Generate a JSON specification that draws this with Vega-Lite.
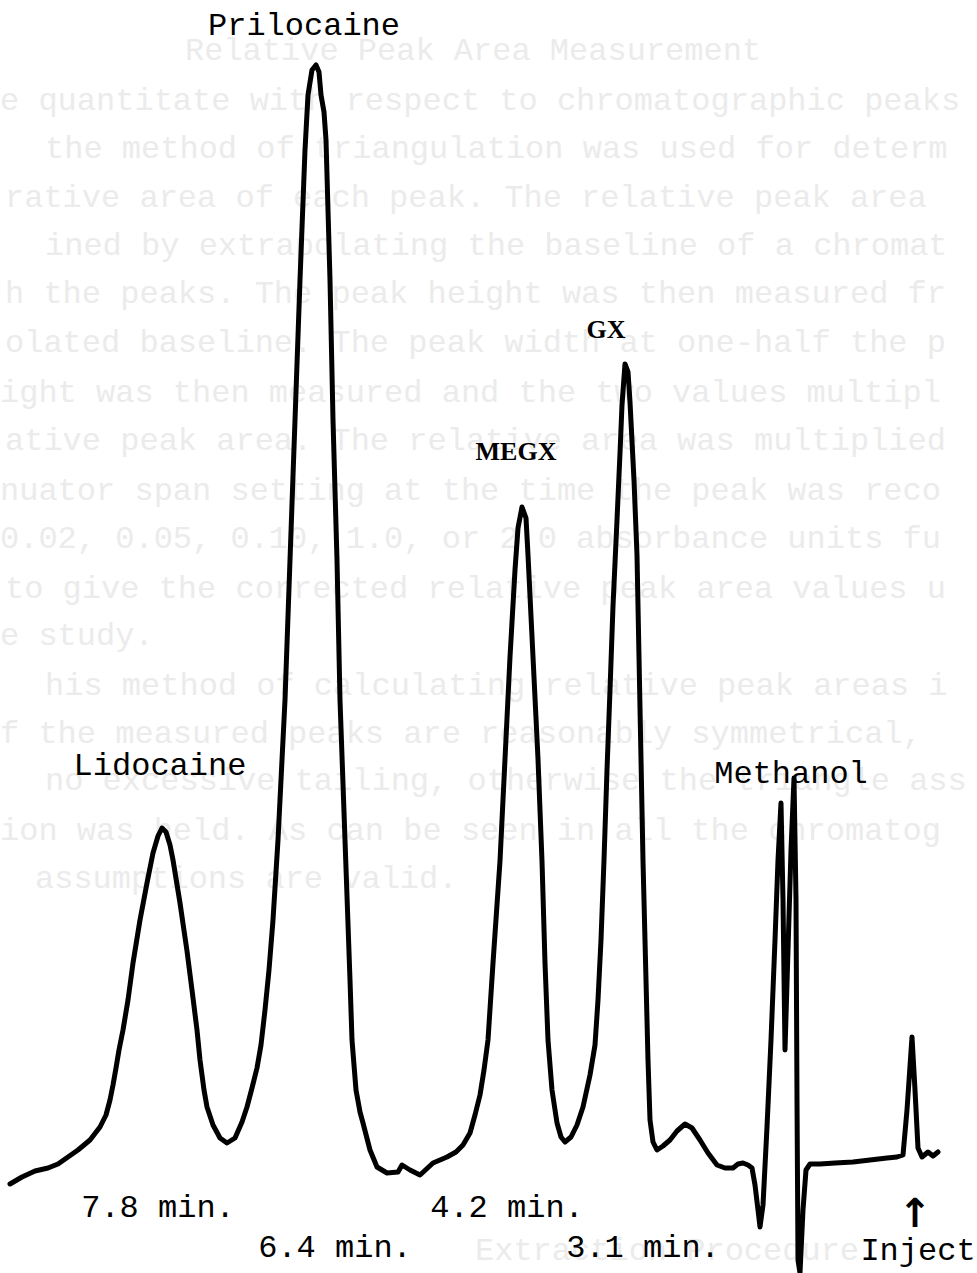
{
  "$schema": "https://vega.github.io/schema/vega-lite/v6.json",
  "width": 977,
  "height": 1273,
  "autosize": {"type": "none"},
  "padding": 0,
  "background": "white",
  "config": {"view": {"stroke": null}},
  "datasets": {
    "trace": [
      {"pos":10,"signal":89},{"pos":22,"signal":96},{"pos":35,"signal":102},{"pos":48,"signal":105},{"pos":58,"signal":109},{"pos":68,"signal":116},{"pos":78,"signal":123},{"pos":90,"signal":133},{"pos":100,"signal":146},{"pos":106,"signal":158},{"pos":110,"signal":173},{"pos":113,"signal":188},{"pos":116,"signal":205},{"pos":119,"signal":223},{"pos":123,"signal":243},{"pos":128,"signal":273},{"pos":133,"signal":310},{"pos":140,"signal":353},{"pos":147,"signal":390},{"pos":153,"signal":420},{"pos":158,"signal":437},{"pos":162,"signal":445},{"pos":166,"signal":441},{"pos":170,"signal":428},{"pos":173,"signal":413},{"pos":180,"signal":370},{"pos":187,"signal":322},{"pos":192,"signal":283},{"pos":197,"signal":243},{"pos":200,"signal":213},{"pos":204,"signal":183},{"pos":207,"signal":166},{"pos":213,"signal":148},{"pos":220,"signal":135},{"pos":227,"signal":130},{"pos":235,"signal":135},{"pos":242,"signal":151},{"pos":247,"signal":166},{"pos":252,"signal":185},{"pos":257,"signal":205},{"pos":261,"signal":228},{"pos":265,"signal":263},{"pos":269,"signal":303},{"pos":273,"signal":353},{"pos":278,"signal":433},{"pos":285,"signal":573},{"pos":290,"signal":713},{"pos":295,"signal":853},{"pos":300,"signal":993},{"pos":305,"signal":1123},{"pos":308,"signal":1178},{"pos":312,"signal":1203},{"pos":316,"signal":1208},{"pos":319,"signal":1201},{"pos":321,"signal":1178},{"pos":324,"signal":1161},{"pos":326,"signal":1133},{"pos":330,"signal":993},{"pos":333,"signal":853},{"pos":337,"signal":713},{"pos":340,"signal":573},{"pos":345,"signal":433},{"pos":350,"signal":293},{"pos":352,"signal":233},{"pos":356,"signal":183},{"pos":360,"signal":161},{"pos":363,"signal":150},{"pos":370,"signal":123},{"pos":377,"signal":106},{"pos":387,"signal":100},{"pos":398,"signal":101},{"pos":402,"signal":108},{"pos":410,"signal":103},{"pos":420,"signal":98},{"pos":433,"signal":110},{"pos":447,"signal":116},{"pos":456,"signal":121},{"pos":463,"signal":128},{"pos":470,"signal":140},{"pos":475,"signal":158},{"pos":480,"signal":178},{"pos":484,"signal":203},{"pos":488,"signal":233},{"pos":493,"signal":310},{"pos":500,"signal":412},{"pos":505,"signal":514},{"pos":510,"signal":616},{"pos":515,"signal":703},{"pos":518,"signal":745},{"pos":522,"signal":766},{"pos":526,"signal":755},{"pos":528,"signal":718},{"pos":533,"signal":616},{"pos":538,"signal":514},{"pos":542,"signal":412},{"pos":545,"signal":310},{"pos":548,"signal":233},{"pos":552,"signal":183},{"pos":557,"signal":150},{"pos":561,"signal":136},{"pos":565,"signal":131},{"pos":571,"signal":136},{"pos":577,"signal":148},{"pos":583,"signal":166},{"pos":590,"signal":198},{"pos":595,"signal":228},{"pos":598,"signal":273},{"pos":601,"signal":333},{"pos":604,"signal":413},{"pos":607,"signal":503},{"pos":610,"signal":583},{"pos":613,"signal":667},{"pos":617,"signal":753},{"pos":620,"signal":820},{"pos":622,"signal":868},{"pos":625,"signal":909},{"pos":628,"signal":901},{"pos":630,"signal":871},{"pos":634,"signal":793},{"pos":637,"signal":718},{"pos":640,"signal":565},{"pos":643,"signal":412},{"pos":646,"signal":293},{"pos":648,"signal":213},{"pos":650,"signal":153},{"pos":653,"signal":131},{"pos":657,"signal":123},{"pos":663,"signal":127},{"pos":670,"signal":133},{"pos":677,"signal":142},{"pos":685,"signal":149},{"pos":692,"signal":145},{"pos":700,"signal":133},{"pos":708,"signal":120},{"pos":717,"signal":108},{"pos":725,"signal":105},{"pos":733,"signal":105},{"pos":738,"signal":109},{"pos":743,"signal":110},{"pos":748,"signal":108},{"pos":752,"signal":105},{"pos":755,"signal":88},{"pos":758,"signal":63},{"pos":760,"signal":46},{"pos":763,"signal":68},{"pos":767,"signal":146},{"pos":771,"signal":233},{"pos":775,"signal":333},{"pos":778,"signal":413},{"pos":781,"signal":470},{"pos":783,"signal":373},{"pos":785,"signal":223},{"pos":788,"signal":323},{"pos":791,"signal":423},{"pos":794,"signal":495},{"pos":796,"signal":373},{"pos":797,"signal":173},{"pos":798,"signal":13},{"pos":800,"signal":0},{"pos":803,"signal":63},{"pos":806,"signal":103},{"pos":810,"signal":109},{"pos":820,"signal":109},{"pos":835,"signal":110},{"pos":853,"signal":111},{"pos":870,"signal":113},{"pos":887,"signal":115},{"pos":897,"signal":116},{"pos":903,"signal":118},{"pos":907,"signal":163},{"pos":912,"signal":236},{"pos":915,"signal":183},{"pos":918,"signal":125},{"pos":922,"signal":116},{"pos":928,"signal":121},{"pos":933,"signal":117},{"pos":938,"signal":121}
    ],
    "labels": [
      {"pos":304,"signal":1248,"text":"Prilocaine"},
      {"pos":160,"signal":508,"text":"Lidocaine"},
      {"pos":791,"signal":500,"text":"Methanol"},
      {"pos":158,"signal":66,"text":"7.8 min."},
      {"pos":507,"signal":66,"text":"4.2 min."},
      {"pos":335,"signal":26,"text":"6.4 min."},
      {"pos":643,"signal":26,"text":"3.1 min."},
      {"pos":918,"signal":23,"text":"Inject"}
    ],
    "serifLabels": [
      {"pos":606,"signal":943,"text":"GX"},
      {"pos":516,"signal":821,"text":"MEGX"}
    ],
    "arrow": [
      {"pos":915,"signal":58,"text":"↑"}
    ],
    "showThrough": [
      {"pos":185,"signal":1223,"text":"Relative Peak Area Measurement"},
      {"pos":0,"signal":1173,"text":"e quantitate with respect to chromatographic peaks"},
      {"pos":45,"signal":1125,"text":"the method of triangulation was used for determ"},
      {"pos":5,"signal":1076,"text":"rative area of each peak. The relative peak area"},
      {"pos":45,"signal":1028,"text":"ined by extrapolating the baseline of a chromat"},
      {"pos":5,"signal":980,"text":"h the peaks. The peak height was then measured fr"},
      {"pos":5,"signal":931,"text":"olated baseline. The peak width at one-half the p"},
      {"pos":0,"signal":881,"text":"ight was then measured and the two values multipl"},
      {"pos":5,"signal":833,"text":"ative peak area. The relative area was multiplied"},
      {"pos":0,"signal":783,"text":"nuator span setting at the time the peak was reco"},
      {"pos":0,"signal":735,"text":"0.02, 0.05, 0.10, 1.0, or 2.0 absorbance units fu"},
      {"pos":5,"signal":685,"text":"to give the corrected relative peak area values u"},
      {"pos":0,"signal":638,"text":"e study."},
      {"pos":45,"signal":588,"text":"his method of calculating relative peak areas i"},
      {"pos":0,"signal":540,"text":"f the measured peaks are reasonably symmetrical, "},
      {"pos":45,"signal":493,"text":"no excessive tailing, otherwise the triangle ass"},
      {"pos":0,"signal":443,"text":"ion was held. As can be seen in all the chromatog"},
      {"pos":35,"signal":395,"text":"assumptions are valid."},
      {"pos":475,"signal":23,"text":"Extraction Procedure"}
    ]
  },
  "layer": [
    {
      "data": {"name": "showThrough"},
      "mark": {"type": "text", "align": "left", "baseline": "middle", "font": "Liberation Mono", "fontSize": 32, "color": "#ebebeb", "clip": true},
      "encoding": {
        "x": {"field": "pos", "type": "quantitative", "scale": {"domain": [0, 977], "nice": false, "zero": false}, "axis": null},
        "y": {"field": "signal", "type": "quantitative", "scale": {"domain": [0, 1273], "nice": false, "zero": false}, "axis": null},
        "text": {"field": "text"}
      }
    },
    {
      "data": {"name": "trace"},
      "mark": {"type": "line", "color": "#000000", "strokeWidth": 5, "strokeJoin": "round", "strokeCap": "round", "clip": true},
      "encoding": {
        "x": {"field": "pos", "type": "quantitative"},
        "y": {"field": "signal", "type": "quantitative"}
      }
    },
    {
      "data": {"name": "labels"},
      "mark": {"type": "text", "align": "center", "baseline": "middle", "font": "Liberation Mono", "fontSize": 32, "color": "#000000"},
      "encoding": {
        "x": {"field": "pos", "type": "quantitative"},
        "y": {"field": "signal", "type": "quantitative"},
        "text": {"field": "text"}
      }
    },
    {
      "data": {"name": "serifLabels"},
      "mark": {"type": "text", "align": "center", "baseline": "middle", "font": "Liberation Serif", "fontSize": 26, "fontWeight": "bold", "color": "#000000"},
      "encoding": {
        "x": {"field": "pos", "type": "quantitative"},
        "y": {"field": "signal", "type": "quantitative"},
        "text": {"field": "text"}
      }
    },
    {
      "data": {"name": "arrow"},
      "mark": {"type": "text", "align": "center", "baseline": "middle", "font": "DejaVu Sans", "fontSize": 40, "fontWeight": "bold", "color": "#000000"},
      "encoding": {
        "x": {"field": "pos", "type": "quantitative"},
        "y": {"field": "signal", "type": "quantitative"},
        "text": {"field": "text"}
      }
    }
  ]
}
